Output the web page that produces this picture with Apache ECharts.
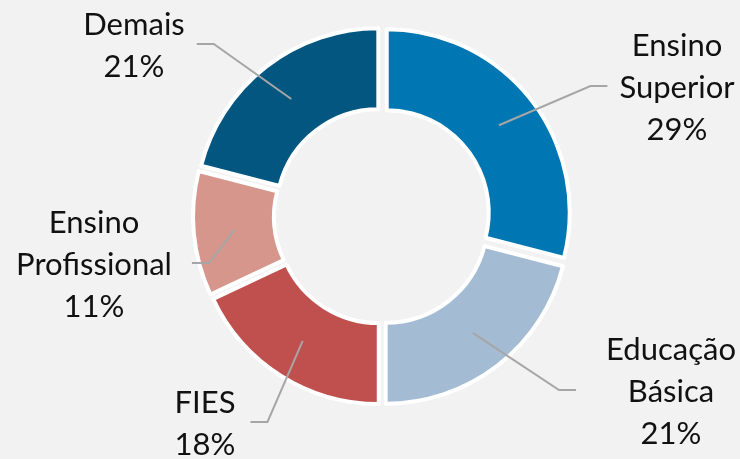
<!DOCTYPE html>
<html>
<head>
<meta charset="utf-8">
<script src="https://cdn.jsdelivr.net/npm/echarts@6/dist/echarts.min.js"></script>
<style>
  html, body { margin: 0; background: #f2f2f2; }
  #chart { width: 740px; height: 459px; }
</style>
</head>
<body>
<div id="chart"></div>
<script>
// shares of the budget, clockwise from 12 o'clock
var categories = ['Ensino\nSuperior', 'Educação\nBásica', 'FIES', 'Ensino\nProfissional', 'Demais'];
var shares = [29, 21, 18, 11, 21];
var colors = ['#0077B3', '#A3BCD4', '#C0504D', '#D6968B', '#025680'];

// label block centres and how far each leader stops short of its text
var labelSpots = [[677, 88], [671, 392], [205, 424], [94, 265], [134, 46]];
var leaderGap = [12, 30, 15, 20, 12];

var center = [382, 216];
var leaderFrom = 148; // leaders start halfway through the ring

var chart = echarts.init(document.getElementById('chart'));

// every slice is pulled out a little, like an exploded Excel doughnut
var ringData = categories.map(function (name, i) {
  return { name: name, value: shares[i], selected: true };
});
var labelData = categories.map(function (name, i) {
  return { name: name, value: shares[i] };
});

chart.setOption({
  backgroundColor: '#f2f2f2',
  animation: false,
  color: colors,
  series: [{
    type: 'pie',
    z: 2,
    center: center,
    radius: [102, 183],
    startAngle: 90,
    clockwise: true,
    silent: true,
    selectedMode: 'multiple',
    selectedOffset: 6,
    itemStyle: { borderColor: '#ffffff', borderWidth: 4 },
    select: { itemStyle: { borderColor: '#ffffff', borderWidth: 4 } },
    label: { show: false },
    labelLine: { show: false },
    data: ringData
  }, {
    // invisible copy that only carries the labels and leaders, on top of the ring
    type: 'pie',
    z: 5,
    center: center,
    radius: [0, leaderFrom],
    startAngle: 90,
    clockwise: true,
    silent: true,
    itemStyle: { color: 'rgba(0,0,0,0)' },
    label: {
      show: true,
      position: 'outside',
      formatter: function (p) { return p.name + '\n' + p.value + '%'; },
      fontFamily: 'Lato',
      fontSize: 31,
      lineHeight: 42,
      color: '#111111'
    },
    labelLine: {
      show: true,
      length: 30,
      length2: 17,
      lineStyle: { color: '#a6a6a6', width: 2 }
    },
    labelLayout: function (p) {
      var spot = labelSpots[p.dataIndex];
      var gap = leaderGap[p.dataIndex];
      // direction of the slice's mid angle, taken from the library's own leader
      var p0 = p.labelLinePoints[0];
      var dx = p0[0] - center[0], dy = p0[1] - center[1];
      var len = Math.sqrt(dx * dx + dy * dy);
      var start = [center[0] + dx / len * leaderFrom, center[1] + dy / len * leaderFrom];
      var onRight = spot[0] > center[0];
      var half = p.labelRect.width / 2;
      var endX = onRight ? spot[0] - half - gap : spot[0] + half + gap;
      var bendX = onRight ? endX - 17 : endX + 17;
      var y = spot[1] - 2;
      return {
        x: spot[0],
        y: spot[1],
        align: 'center',
        verticalAlign: 'middle',
        labelLinePoints: [start, [bendX, y], [endX, y]]
      };
    },
    data: labelData
  }]
});
</script>
</body>
</html>
